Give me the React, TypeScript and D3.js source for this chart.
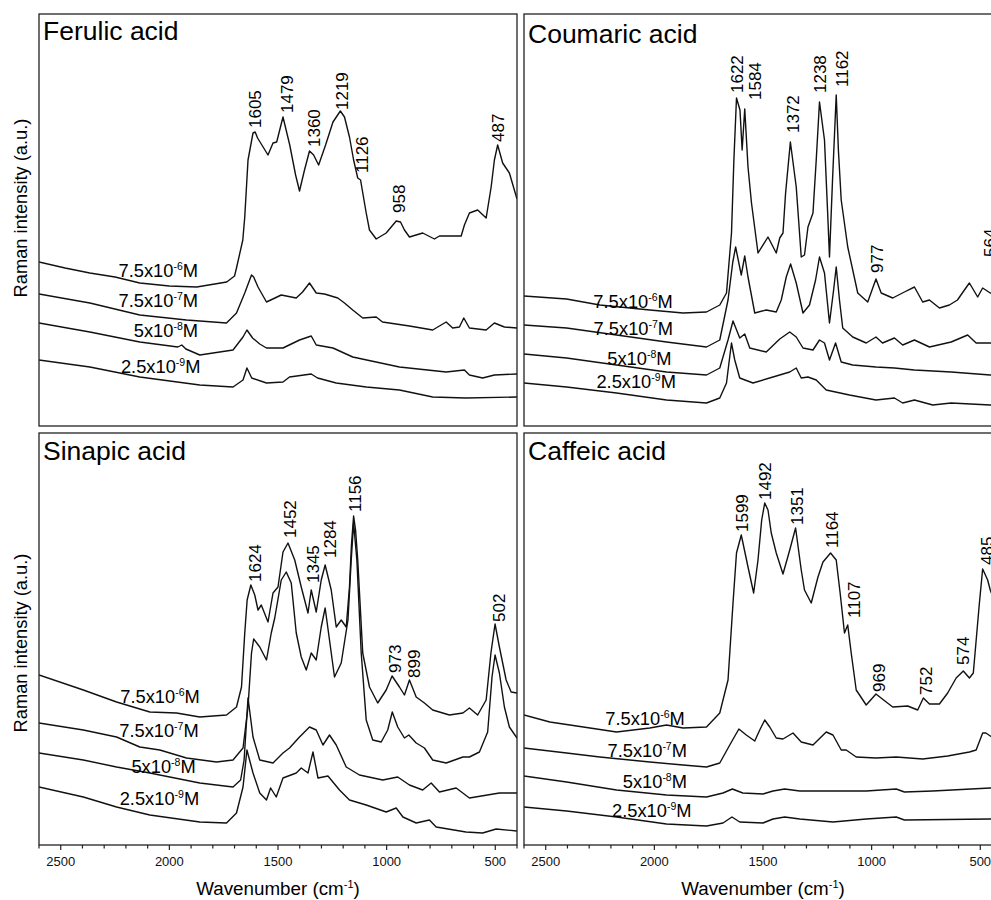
import * as d3 from "d3";

// Raman SERS spectra, four hydroxycinnamic acids, four concentrations each.
// Points are [wavenumber (cm-1), intensity (a.u.)].

const FONT = "'Liberation Sans', Arial, Helvetica, sans-serif";

const xDomain: [number, number] = [2600, 400];
const yDomain: [number, number] = [0, 412];
const majorTicks = [2500, 2000, 1500, 1000, 500];
const minorTicks = [2600, 2400, 2300, 2200, 2100, 1900, 1800, 1700, 1600, 1400, 1300, 1200, 1100, 900, 800, 700, 600, 400];

const concentrations = [
  { base: "7.5x10", exp: "-6" },
  { base: "7.5x10", exp: "-7" },
  { base: "5x10", exp: "-8" },
  { base: "2.5x10", exp: "-9" },
];

type Pt = [number, number];
type Peak = [string, number, number];

// ---------- Ferulic acid ----------
const ferulic6: Pt[] = [
  [2600, 164], [2480, 158], [2366, 153], [2250, 149], [2136, 143], [2000, 140], [1874, 139], [1736, 144],
  [1700, 150], [1690, 159], [1662, 186], [1653, 209], [1638, 266], [1615, 293], [1605, 294], [1594, 288],
  [1546, 271], [1523, 283], [1506, 284], [1477, 309], [1446, 281], [1419, 251], [1401, 235], [1378, 256],
  [1355, 275], [1336, 271], [1313, 261], [1281, 281], [1247, 304], [1213, 315], [1194, 309], [1171, 289],
  [1152, 266], [1133, 248], [1120, 246], [1094, 213], [1079, 196], [1048, 187], [1002, 193], [956, 205],
  [936, 204], [918, 196], [895, 189], [834, 193], [780, 187], [757, 190], [657, 190], [642, 201],
  [619, 213], [581, 216], [542, 208], [519, 239], [504, 266], [489, 281], [466, 263], [435, 253], [400, 227],
];
const ferulic7: Pt[] = [
  [2600, 132], [2366, 123], [2136, 111], [1921, 106], [1737, 103], [1691, 113], [1653, 133], [1622, 151],
  [1612, 149], [1592, 139], [1553, 124], [1485, 131], [1416, 128], [1387, 134], [1355, 143], [1324, 133],
  [1286, 132], [1225, 128], [1194, 123], [1156, 116], [1110, 108], [1048, 109], [1019, 104], [895, 100],
  [788, 96], [726, 104], [696, 98], [665, 99], [645, 108], [619, 98], [542, 96], [504, 103], [458, 99], [400, 98],
];
const ferulic8: Pt[] = [
  [2600, 103], [2366, 94], [2136, 84], [1961, 79], [1943, 81], [1924, 77], [1860, 71], [1707, 76],
  [1661, 89], [1643, 96], [1617, 88], [1584, 82], [1553, 78], [1477, 78], [1401, 86], [1347, 90],
  [1324, 81], [1247, 78], [1156, 69], [941, 59], [726, 54], [642, 56], [619, 51], [558, 48], [504, 51], [400, 52],
];
const ferulic9: Pt[] = [
  [2600, 66], [2366, 59], [2136, 49], [1860, 41], [1707, 39], [1661, 46], [1643, 58], [1621, 48],
  [1553, 43], [1477, 44], [1447, 49], [1347, 52], [1318, 48], [1232, 43], [1094, 39], [941, 36],
  [788, 29], [635, 28], [400, 29],
];
const ferulicPeaks: Peak[] = [
  ["1605", 1604, 298], ["1479", 1458, 313], ["1360", 1336, 279], ["1219", 1205, 316],
  ["1126", 1113, 253], ["958", 945, 213], ["487", 486, 284],
];
const ferulicConc: Pt[] = [[1868, 149], [1868, 119], [1868, 89], [1857, 53]];

// ---------- Coumaric acid ----------
const coumaric6: Pt[] = [
  [2600, 130], [2404, 127], [2251, 121], [2021, 116], [1868, 113], [1760, 114], [1699, 121], [1668, 133],
  [1645, 193], [1634, 266], [1622, 328], [1606, 316], [1596, 276], [1584, 317], [1569, 259], [1553, 223],
  [1523, 173], [1477, 189], [1439, 173], [1423, 188], [1408, 193], [1396, 233], [1374, 284], [1347, 239],
  [1324, 169], [1309, 171], [1293, 199], [1270, 213], [1255, 266], [1240, 324], [1217, 286], [1203, 216],
  [1194, 169], [1180, 246], [1163, 331], [1153, 276], [1140, 226], [1110, 179], [1064, 133], [1018, 124],
  [980, 147], [956, 133], [903, 128], [849, 134], [803, 139], [765, 124], [734, 126], [688, 118],
  [642, 121], [605, 126], [573, 136], [550, 143], [512, 129], [489, 138], [454, 133], [400, 131],
];
const coumaric7: Pt[] = [
  [2600, 101], [2404, 98], [2174, 91], [1944, 84], [1760, 79], [1699, 86], [1661, 126], [1639, 164],
  [1626, 179], [1600, 151], [1584, 170], [1569, 149], [1538, 113], [1485, 116], [1439, 114], [1416, 126],
  [1393, 149], [1373, 162], [1347, 143], [1316, 113], [1286, 121], [1258, 146], [1240, 169], [1217, 153],
  [1194, 103], [1175, 136], [1163, 159], [1148, 126], [1133, 98], [1087, 89], [1025, 83], [980, 89],
  [950, 83], [895, 88], [857, 81], [803, 86], [734, 79], [634, 84], [558, 91], [519, 83], [454, 83], [400, 83],
];
const coumaric8: Pt[] = [
  [2600, 72], [2404, 68], [2174, 61], [1944, 54], [1760, 51], [1699, 58], [1661, 86], [1638, 105],
  [1607, 88], [1584, 92], [1561, 78], [1485, 74], [1423, 87], [1377, 94], [1347, 89], [1316, 78],
  [1270, 76], [1240, 86], [1217, 83], [1194, 66], [1166, 83], [1140, 64], [1087, 61], [980, 59],
  [895, 58], [803, 56], [634, 54], [454, 51], [400, 51],
];
const coumaric9: Pt[] = [
  [2600, 43], [2404, 39], [2174, 33], [1944, 26], [1760, 23], [1699, 28], [1668, 43], [1655, 66],
  [1645, 83], [1630, 66], [1607, 48], [1546, 43], [1454, 49], [1377, 54], [1347, 58], [1324, 48],
  [1293, 49], [1255, 46], [1209, 36], [1102, 31], [980, 26], [895, 28], [857, 23], [803, 26],
  [719, 21], [634, 23], [454, 21], [400, 21],
];
const coumaricPeaks: Peak[] = [
  ["1622", 1619, 333], ["1584", 1536, 326], ["1372", 1362, 293], ["1238", 1236, 333],
  ["1162", 1138, 339], ["977", 975, 153], ["564", 454, 169],
];
const coumaricConc: Pt[] = [[1915, 118], [1914, 91], [1921, 61], [1901, 38]];

// ---------- Sinapic acid ----------
const sinapic6: Pt[] = [
  [2600, 170], [2396, 155], [2243, 143], [2090, 133], [1967, 132], [1860, 128], [1737, 130], [1691, 138],
  [1668, 158], [1653, 212], [1642, 245], [1625, 260], [1607, 250], [1592, 235], [1577, 240], [1546, 223],
  [1523, 252], [1500, 258], [1477, 293], [1454, 302], [1423, 285], [1393, 258], [1362, 232], [1347, 255],
  [1324, 233], [1301, 265], [1283, 280], [1255, 255], [1232, 218], [1209, 225], [1186, 218], [1171, 258],
  [1162, 300], [1152, 329], [1143, 315], [1133, 285], [1110, 192], [1079, 158], [1041, 142], [1002, 155],
  [975, 169], [941, 158], [918, 150], [895, 165], [864, 148], [826, 142], [788, 135], [711, 130],
  [649, 132], [619, 137], [581, 130], [542, 145], [520, 192], [501, 221], [481, 198], [450, 165], [427, 153], [400, 152],
];
const sinapic7: Pt[] = [
  [2600, 122], [2396, 115], [2243, 108], [2136, 98], [2044, 95], [1921, 87], [1783, 83], [1707, 85],
  [1661, 97], [1638, 138], [1622, 192], [1612, 206], [1584, 198], [1553, 185], [1531, 212], [1515, 227],
  [1485, 265], [1462, 273], [1439, 262], [1416, 212], [1393, 188], [1370, 175], [1347, 192], [1324, 185],
  [1301, 218], [1283, 237], [1263, 205], [1240, 168], [1209, 182], [1178, 225], [1163, 285], [1152, 322],
  [1137, 285], [1117, 192], [1094, 125], [1064, 105], [1025, 103], [995, 115], [974, 133], [949, 118],
  [918, 107], [898, 110], [864, 102], [826, 97], [788, 85], [726, 82], [649, 88], [619, 88],
  [573, 93], [535, 113], [515, 168], [501, 190], [481, 172], [458, 138], [435, 118], [400, 107],
];
const sinapic8: Pt[] = [
  [2600, 92], [2396, 85], [2243, 78], [2090, 72], [1860, 62], [1707, 58], [1672, 65], [1656, 85],
  [1638, 147], [1615, 108], [1584, 85], [1523, 82], [1477, 92], [1447, 97], [1401, 108], [1355, 118],
  [1324, 115], [1293, 100], [1263, 110], [1232, 100], [1186, 78], [1125, 70], [1018, 65], [949, 68],
  [895, 60], [834, 55], [795, 62], [757, 53], [680, 57], [619, 47], [481, 52], [400, 52],
];
const sinapic9: Pt[] = [
  [2600, 58], [2396, 48], [2243, 38], [2090, 30], [1860, 23], [1737, 22], [1691, 32], [1661, 58],
  [1643, 95], [1615, 72], [1584, 52], [1553, 45], [1534, 57], [1508, 48], [1477, 67], [1416, 72],
  [1393, 77], [1362, 72], [1339, 93], [1316, 67], [1270, 69], [1217, 55], [1171, 45], [1094, 40],
  [1002, 33], [956, 37], [925, 28], [864, 22], [803, 25], [772, 18], [635, 13], [558, 12], [496, 16], [400, 14],
];
const sinapicPeaks: Peak[] = [
  ["1624", 1604, 263], ["1452", 1446, 307], ["1345", 1339, 262], ["1284", 1259, 287],
  ["1156", 1144, 333], ["973", 960, 172], ["899", 874, 167], ["502", 485, 223],
];
const sinapicConc: Pt[] = [[1860, 142], [1865, 108], [1879, 72], [1863, 40]];

// ---------- Caffeic acid ----------
const caffeic6: Pt[] = [
  [2600, 130], [2481, 123], [2327, 118], [2174, 113], [2021, 117], [1944, 120], [1868, 117], [1760, 118],
  [1699, 132], [1661, 165], [1638, 242], [1622, 292], [1600, 310], [1569, 278], [1543, 252], [1523, 285],
  [1506, 325], [1492, 342], [1477, 335], [1462, 312], [1439, 292], [1408, 271], [1377, 295], [1350, 317],
  [1324, 275], [1309, 255], [1278, 242], [1247, 268], [1224, 283], [1189, 292], [1163, 285], [1145, 252],
  [1125, 212], [1110, 220], [1094, 192], [1071, 155], [1025, 140], [980, 151], [933, 143], [903, 138],
  [834, 139], [788, 135], [762, 147], [734, 141], [688, 141], [650, 152], [611, 167], [578, 174],
  [550, 167], [532, 172], [504, 242], [489, 276], [466, 265], [454, 255], [412, 230], [400, 225],
];
const caffeic7: Pt[] = [
  [2600, 97], [2404, 92], [2251, 88], [2021, 83], [1868, 80], [1760, 78], [1699, 82], [1653, 100],
  [1611, 116], [1577, 110], [1538, 104], [1515, 115], [1492, 125], [1469, 118], [1439, 107], [1408, 106],
  [1362, 112], [1324, 103], [1270, 100], [1209, 113], [1178, 110], [1140, 95], [1117, 95], [1071, 88],
  [980, 87], [887, 88], [765, 86], [650, 89], [550, 93], [519, 95], [489, 112], [474, 112], [454, 109], [400, 102],
];
const caffeic8: Pt[] = [
  [2600, 69], [2404, 63], [2174, 55], [1944, 50], [1760, 48], [1684, 52], [1641, 56], [1593, 52],
  [1500, 51], [1454, 54], [1400, 56], [1331, 54], [1178, 54], [1025, 54], [887, 56], [849, 53],
  [719, 54], [454, 57], [400, 57],
];
const caffeic9: Pt[] = [
  [2600, 38], [2404, 34], [2174, 28], [1944, 21], [1760, 19], [1684, 22], [1643, 28], [1607, 23],
  [1500, 22], [1454, 26], [1400, 28], [1331, 26], [1178, 23], [1025, 26], [887, 28], [849, 25],
  [454, 26], [400, 26],
];
const caffeicPeaks: Peak[] = [
  ["1599", 1596, 313], ["1492", 1489, 345], ["1351", 1343, 320], ["1164", 1182, 297],
  ["1107", 1082, 227], ["969", 968, 153], ["752", 749, 150], ["574", 580, 180], ["485", 467, 280],
];
const caffeicConc: Pt[] = [[1860, 120], [1850, 88], [1850, 57], [1829, 28]];

const panels = [
  { title: "Ferulic acid", spectra: [ferulic6, ferulic7, ferulic8, ferulic9], peaks: ferulicPeaks, conc: ferulicConc },
  { title: "Coumaric acid", spectra: [coumaric6, coumaric7, coumaric8, coumaric9], peaks: coumaricPeaks, conc: coumaricConc },
  { title: "Sinapic acid", spectra: [sinapic6, sinapic7, sinapic8, sinapic9], peaks: sinapicPeaks, conc: sinapicConc },
  { title: "Caffeic acid", spectra: [caffeic6, caffeic7, caffeic8, caffeic9], peaks: caffeicPeaks, conc: caffeicConc },
];

// layout
const W = 991;
const H = 900;
const PW = 478;
const PH = 412;
const colX = [39, 524];
const rowY = [14, 433];
const titleDy = [25.5, 29, 27, 27];

function Panel({ idx }: { idx: number }) {
  const p = panels[idx];
  const col = idx % 2;
  const row = Math.floor(idx / 2);
  const x0 = colX[col];
  const y0 = rowY[row];
  const x = d3.scaleLinear().domain(xDomain).range([x0, x0 + PW]);
  const y = d3.scaleLinear().domain(yDomain).range([y0 + PH, y0]);
  const line = d3
    .line<Pt>()
    .x((d) => x(d[0]))
    .y((d) => y(d[1]));
  const clipId = `clip-${idx}`;
  const bottom = row === 1;

  return (
    <g>
      <defs>
        <clipPath id={clipId}>
          <rect x={x0} y={y0} width={PW} height={PH} />
        </clipPath>
      </defs>
      <g clipPath={`url(#${clipId})`}>
        {p.spectra.map((s, i) => (
          <path key={i} d={line(s) || ""} fill="none" stroke="#111" strokeWidth={1.4} strokeLinejoin="round" />
        ))}
      </g>
      <rect x={x0} y={y0} width={PW} height={PH} fill="none" stroke="#222" strokeWidth={1.3} />
      <text x={x0 + 4} y={y0 + titleDy[idx]} fontSize={26.5} fontFamily={FONT} fill="#000">
        {p.title}
      </text>
      {p.peaks.map(([t, w, v]) => (
        <text
          key={t}
          transform={`translate(${x(w) + 6},${y(v)}) rotate(-90)`}
          fontSize={17}
          fontFamily={FONT}
          fill="#000"
        >
          {t}
        </text>
      ))}
      {p.conc.map(([w, v], i) => (
        <text key={i} x={x(w)} y={y(v)} textAnchor="end" fontSize={18.3} fontFamily={FONT} fill="#000">
          {concentrations[i].base}
          <tspan dy={-7} fontSize={10.5}>
            {concentrations[i].exp}
          </tspan>
          <tspan dy={7}>M</tspan>
        </text>
      ))}
      {bottom && (
        <g>
          {minorTicks.map((t) => (
            <line key={t} x1={x(t)} x2={x(t)} y1={y0 + PH} y2={y0 + PH + 3.5} stroke="#222" strokeWidth={1.2} />
          ))}
          {majorTicks.map((t) => (
            <g key={t}>
              <line x1={x(t)} x2={x(t)} y1={y0 + PH} y2={y0 + PH + 5} stroke="#222" strokeWidth={1.2} />
              <text x={x(t)} y={866} textAnchor="middle" fontSize={13} fontFamily={FONT} fill="#111">
                {t}
              </text>
            </g>
          ))}
          <text x={x0 + PW / 2} y={895} textAnchor="middle" fontSize={18.8} fontFamily={FONT} fill="#000">
            Wavenumber (cm
            <tspan dy={-7} fontSize={11}>
              -1
            </tspan>
            <tspan dy={7}>)</tspan>
          </text>
        </g>
      )}
    </g>
  );
}

export default function App() {
  return (
    <div style={{ position: "absolute", left: 0, top: 0 }}>
      <svg width={W} height={H} viewBox={`0 0 ${W} ${H}`} style={{ display: "block", background: "#fff" }}>
        <rect x={0} y={0} width={W} height={H} fill="#fff" />
        {panels.map((_, i) => (
          <Panel key={i} idx={i} />
        ))}
        {[208, 643].map((cy) => (
          <text
            key={cy}
            transform={`translate(27,${cy}) rotate(-90)`}
            textAnchor="middle"
            fontSize={18.3}
            fontFamily={FONT}
            fill="#000"
          >
            Raman intensity (a.u.)
          </text>
        ))}
      </svg>
    </div>
  );
}
